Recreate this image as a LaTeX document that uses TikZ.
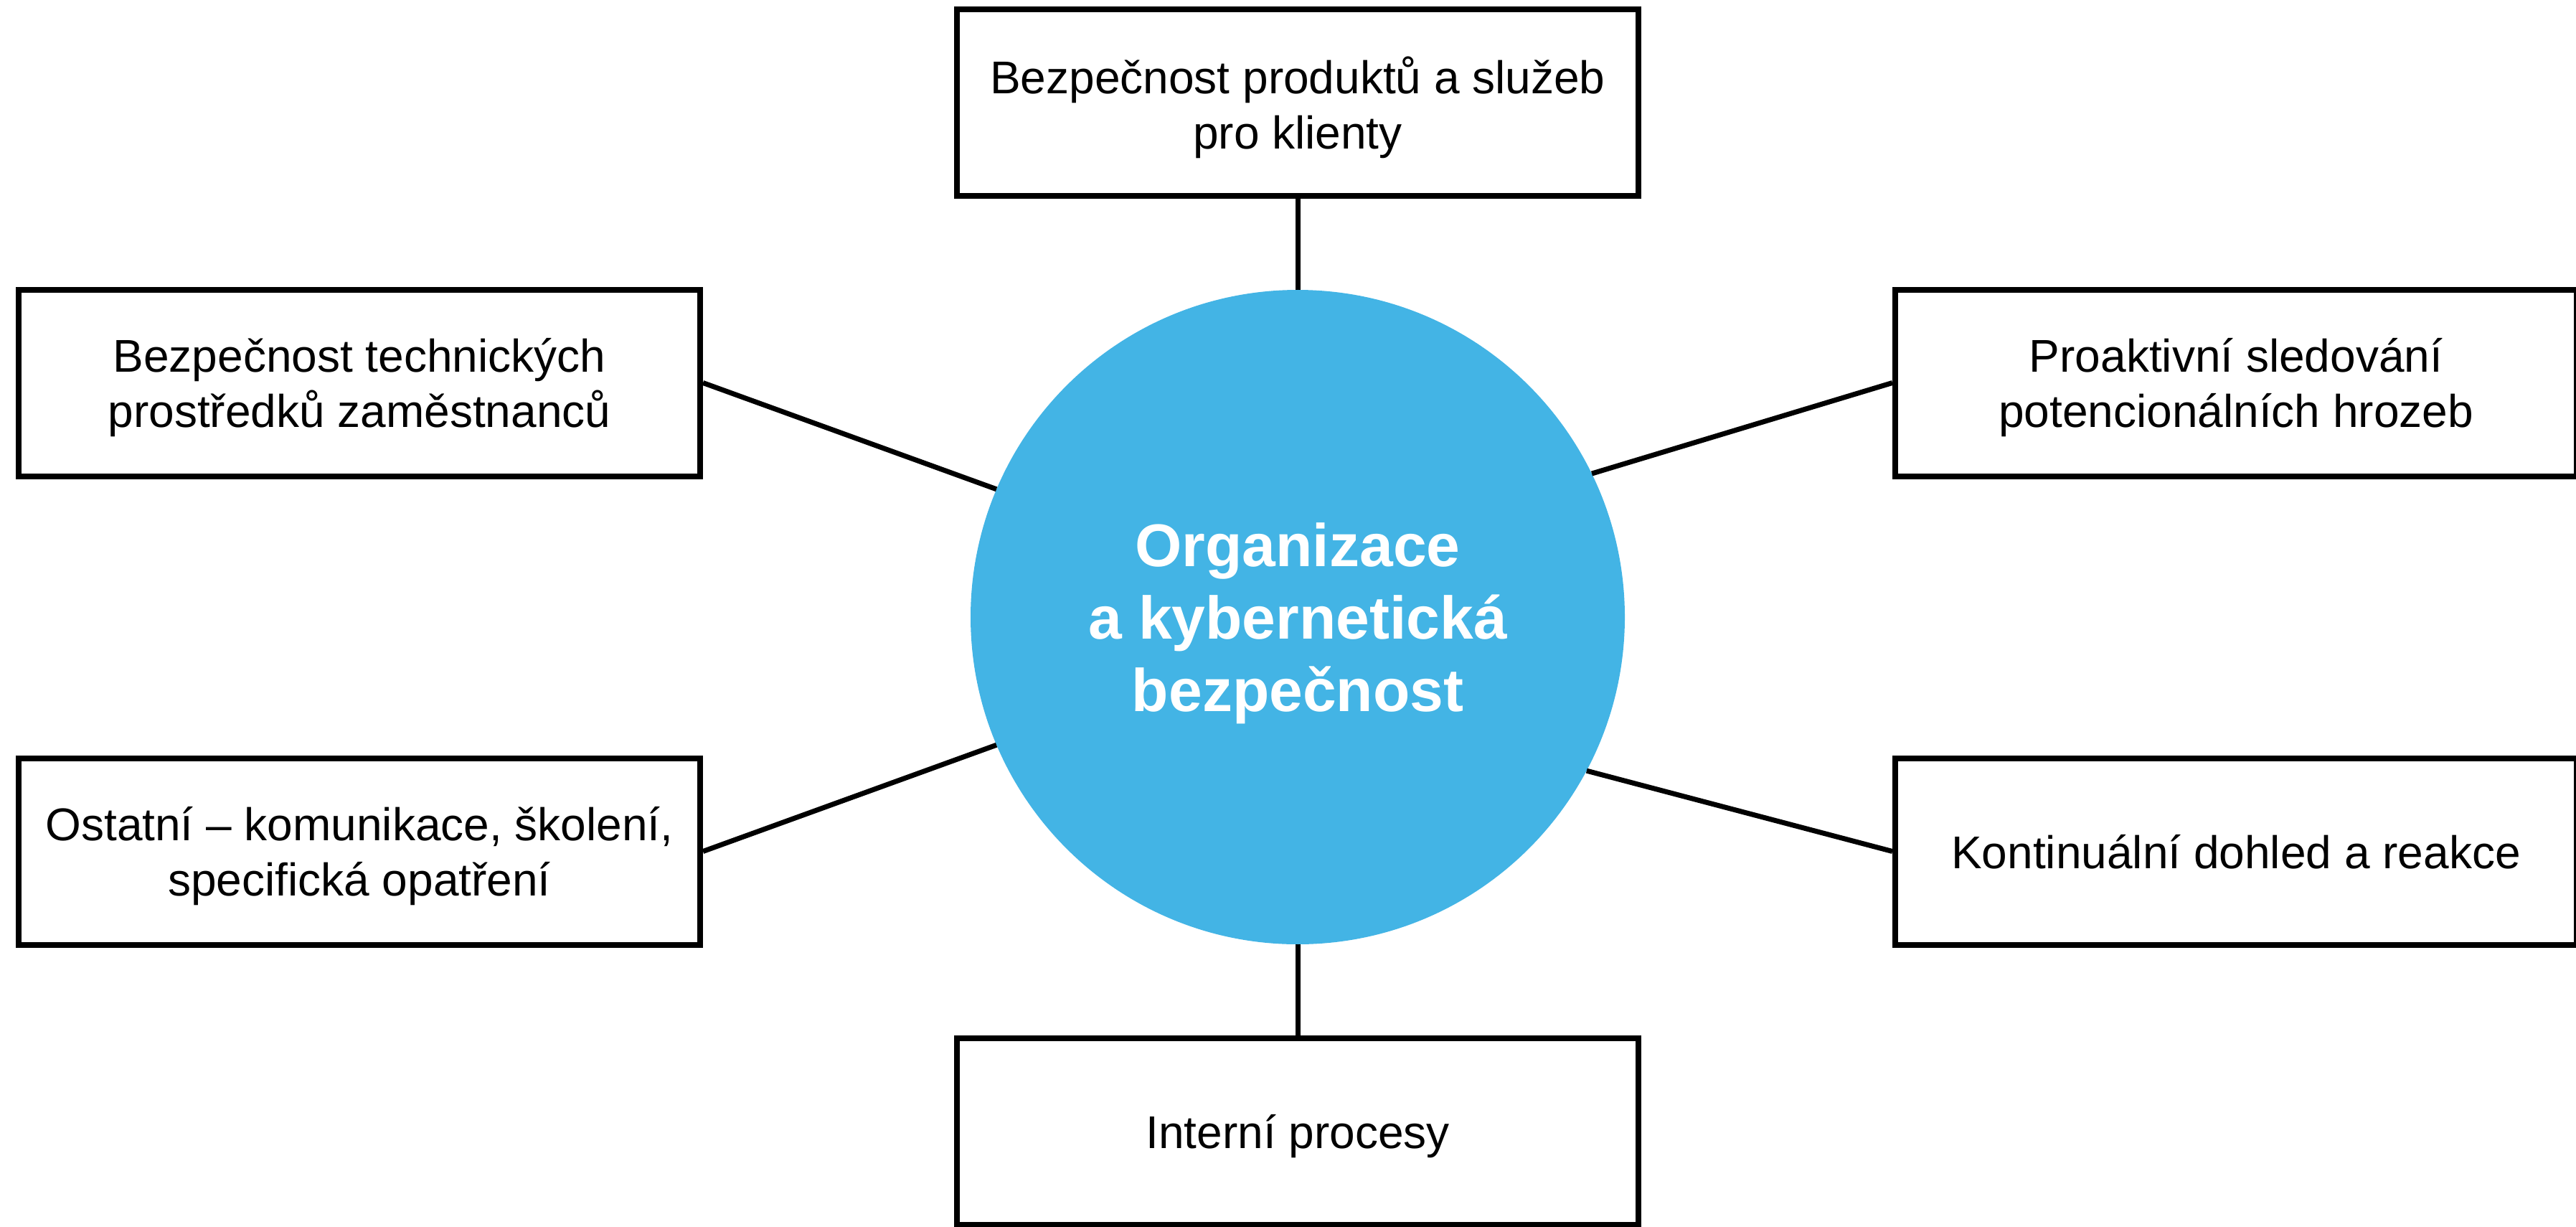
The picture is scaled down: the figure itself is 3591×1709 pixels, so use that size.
\documentclass[tikz,border=0pt]{standalone}
\usepackage{fontspec}
\setmainfont{Liberation Sans}
\definecolor{hubblue}{RGB}{67,180,229}

\begin{document}
\begin{tikzpicture}[x=1pt,y=-1pt,
  topic/.style={draw=black, line width=8pt, fill=white,
    minimum width=950pt, minimum height=260pt, inner sep=0pt,
    align=center, text depth=0pt,
    font=\fontsize{64}{77}\selectfont},
  hubnode/.style={circle, fill=hubblue, minimum size=912pt, inner sep=0pt,
    align=center, text=white, text depth=0pt,
    font=\bfseries\fontsize{84}{101}\selectfont},
  link/.style={draw=black, line width=7pt}]

\useasboundingbox (0,0) rectangle (3591,1709);

% central hub
\node[hubnode] (c) at (1809,860) {Organizace\\a kybernetická\\bezpečnost};

% surrounding topics
\node[topic] (top) at (1809,143)    {Bezpečnost produktů a služeb\\pro klienty};
\node[topic] (ul)  at (501,533.5)   {Bezpečnost technických\\prostředků zaměstnanců};
\node[topic] (ur)  at (3117,533.5)  {Proaktivní sledování\\potencionálních hrozeb};
\node[topic] (ll)  at (501,1186.5)  {Ostatní – komunikace, školení,\\specifická opatření};
\node[topic] (lr)  at (3117,1186.5) {Kontinuální dohled a reakce};
\node[topic] (bot) at (1809,1577)   {Interní procesy};

% connectors
\draw[link] (top) -- (c);
\draw[link] (bot) -- (c);
\draw[link] (ul.east) -- (c.157);
\draw[link] (ur.west) -- (c.26.6);
\draw[link] (ll.east) -- (c.203.8);
\draw[link] (lr.west) -- (c.332.7);
\end{tikzpicture}
\end{document}
